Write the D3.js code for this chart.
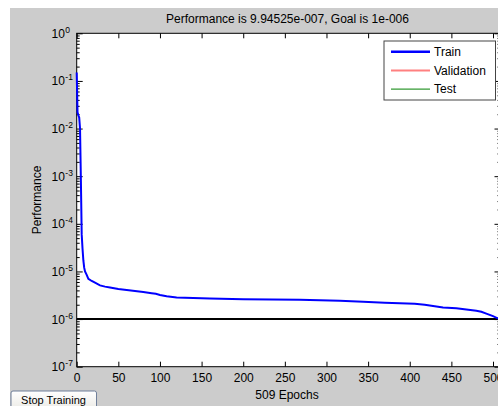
<!DOCTYPE html>
<html><head><meta charset="utf-8">
<script src="https://cdn.jsdelivr.net/npm/d3@7"></script>
<style>
html,body{margin:0;padding:0;background:#fff;}
svg{display:block;font-family:"Liberation Sans",Arial,sans-serif;}
</style></head>
<body>
<svg id="c" width="498" height="406"></svg>
<script>
const epochs = [0,1,2,3,4,5,6,7,8,9,10,12,14,18,22,28,34,40,50,60,70,80,90,95,100,108,120,130,160,200,268,316,344,370,406,418,426,440,456,468,480,486,492,500,505,509];
const perf = [0.15,0.022,0.019,0.017,0.01,9e-4,6e-5,3e-5,1.7e-5,1.2e-5,1e-5,8.5e-6,7e-6,6.3e-6,5.8e-6,5.1e-6,4.8e-6,4.6e-6,4.3e-6,4.1e-6,3.9e-6,3.7e-6,3.5e-6,3.4e-6,3.2e-6,3.0e-6,2.85e-6,2.8e-6,2.7e-6,2.6e-6,2.55e-6,2.42e-6,2.3e-6,2.2e-6,2.1e-6,2.0e-6,1.9e-6,1.75e-6,1.68e-6,1.58e-6,1.5e-6,1.42e-6,1.3e-6,1.15e-6,1.05e-6,9.95e-7];
const goal = 1e-6;
const xTicks = [0,50,100,150,200,250,300,350,400,450,500];
const yExponents = [0,-1,-2,-3,-4,-5,-6,-7];
const legendItems = ["Train","Validation","Test"];
const legendColors = ["#0000ff","#ff8080","#008000"];
const legendWidths = [2.5,2,1];
const titleText = "Performance is 9.94525e-007, Goal is 1e-006";
const xLabel = "509 Epochs";
const yLabel = "Performance";

const svg = d3.select("#c");
const L = 76.7, R = 500.5, T = 33.3, B = 366.7;

svg.append("rect").attr("x",10).attr("y",8).attr("width",488).attr("height",398).attr("fill","#cccccc");

const x = d3.scaleLinear().domain([0,509]).range([L,R]);
const y = d3.scaleLog().domain([1e-7,1]).range([B,T]);

svg.append("rect").attr("x",L).attr("y",T).attr("width",R-L).attr("height",B-T).attr("fill","#fff");

// minor ticks
const minor = [];
for (let e=-7;e<0;e++) for (let m=2;m<=9;m++) minor.push(m*Math.pow(10,e));
const majors = yExponents.map(e=>Math.pow(10,e));

function styleAxis(g){ g.select(".domain").remove(); g.selectAll("line").attr("stroke","#000"); }

svg.append("g").attr("transform",`translate(${L},0)`).call(d3.axisLeft(y).tickValues(minor).tickSize(-3).tickFormat("")).call(styleAxis);
svg.append("g").attr("transform",`translate(${L},0)`).call(d3.axisLeft(y).tickValues(majors).tickSize(-6).tickFormat("")).call(styleAxis);
svg.append("g").attr("transform",`translate(${R},0)`).call(d3.axisRight(y).tickValues(minor).tickSize(-3).tickFormat("")).call(styleAxis);
svg.append("g").attr("transform",`translate(${R},0)`).call(d3.axisRight(y).tickValues(majors).tickSize(-6).tickFormat("")).call(styleAxis);

const xb = svg.append("g").attr("transform",`translate(0,${B})`).call(d3.axisBottom(x).tickValues(xTicks).tickSize(-5).tickPadding(7).tickFormat(d3.format("d")));
xb.select(".domain").remove();
xb.selectAll("line").attr("stroke","#000");
xb.selectAll("text").attr("font-size",12).attr("fill","#000").attr("font-family","Liberation Sans, Arial, sans-serif");
svg.append("g").attr("transform",`translate(0,${T})`).call(d3.axisTop(x).tickValues(xTicks).tickSize(-5).tickFormat("")).call(styleAxis);

// y labels
const yl = svg.append("g");
yExponents.forEach(e=>{
  const t = yl.append("text").attr("x",51.5).attr("y",y(Math.pow(10,e))+4.5).attr("font-size",12).attr("fill","#000");
  t.append("tspan").text("10");
  t.append("tspan").attr("dy",-5).attr("dx",0.5).attr("font-size",8.5).text(String(e));
});

// frame
svg.append("rect").attr("x",L).attr("y",T).attr("width",R-L).attr("height",B-T).attr("fill","none").attr("stroke","#000").attr("stroke-width",1);

// goal line
svg.append("line").attr("x1",L).attr("x2",R).attr("y1",y(goal)).attr("y2",y(goal)).attr("stroke","#000").attr("stroke-width",2);

// train curve
const line = d3.line().x((d,i)=>x(epochs[i])).y(d=>y(d));
svg.append("path").datum(perf).attr("d",line).attr("fill","none").attr("stroke","#0000ff").attr("stroke-width",2);

// legend
const lg = svg.append("g");
lg.append("rect").attr("x",384).attr("y",41).attr("width",111.5).attr("height",59).attr("fill","#fff").attr("stroke","#444").attr("stroke-width",1);
legendItems.forEach((name,i)=>{
  const yy = 51.7 + i*18.7;
  lg.append("line").attr("x1",391).attr("x2",430).attr("y1",yy).attr("y2",yy).attr("stroke",legendColors[i]).attr("stroke-width",legendWidths[i]);
  lg.append("text").attr("x",434).attr("y",yy+4.3).attr("font-size",12).attr("fill","#000").text(name);
});

// title and labels
svg.append("text").attr("x",287.5).attr("y",22.5).attr("text-anchor","middle").attr("font-size",12).attr("fill","#000").text(titleText);
svg.append("text").attr("x",287).attr("y",398.5).attr("text-anchor","middle").attr("font-size",12).attr("fill","#000").text(xLabel);
svg.append("text").attr("transform",`translate(41,${(T+B)/2}) rotate(-90)`).attr("text-anchor","middle").attr("font-size",12).attr("fill","#000").text(yLabel);

// button
const defs = svg.append("defs");
const gr = defs.append("linearGradient").attr("id","btn").attr("x1",0).attr("y1",0).attr("x2",0).attr("y2",1);
gr.append("stop").attr("offset","0%").attr("stop-color","#ffffff");
gr.append("stop").attr("offset","100%").attr("stop-color","#ecebe6");
svg.append("rect").attr("x",11).attr("y",391).attr("width",85.5).attr("height",18).attr("rx",2).attr("fill","url(#btn)").attr("stroke","#6f7f9a").attr("stroke-width",1);
svg.append("text").attr("x",53.5).attr("y",403.5).attr("text-anchor","middle").attr("font-size",11).attr("fill","#000").text("Stop Training");
</script>
</body></html>
